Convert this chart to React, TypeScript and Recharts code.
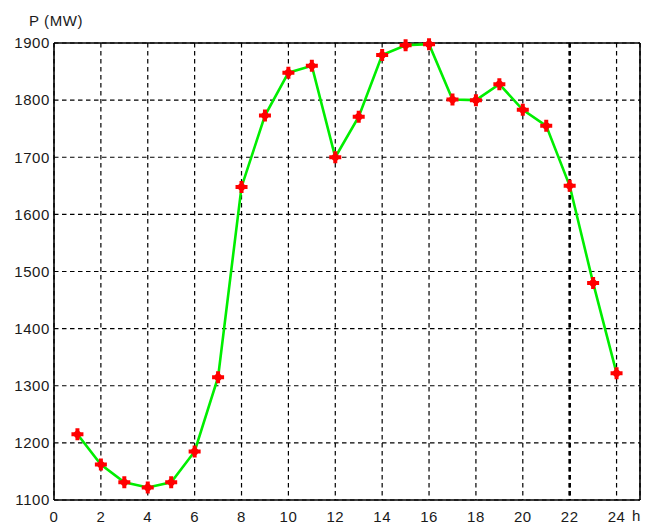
import React from 'react';
import { LineChart, Line, XAxis, YAxis, CartesianGrid, ReferenceLine, Label } from 'recharts';

const hours = [1, 2, 3, 4, 5, 6, 7, 8, 9, 10, 11, 12, 13, 14, 15, 16, 17, 18, 19, 20, 21, 22, 23, 24];
const powerMW = [1215, 1162, 1131, 1122, 1131, 1185, 1315, 1648, 1773, 1848, 1860, 1700, 1771, 1879, 1896, 1898, 1801, 1800, 1828, 1783, 1755, 1650, 1480, 1322];
const xTicks = [0, 2, 4, 6, 8, 10, 12, 14, 16, 18, 20, 22, 24];
const yTicks = [1100, 1200, 1300, 1400, 1500, 1600, 1700, 1800, 1900];

const data = hours.map((h, i) => ({ h, p: powerMW[i] }));

const FONT = '"Liberation Sans", Arial, sans-serif';
const TEXT = '#1a1a1a';

const Marker = (props: any) => {
  const { cx, cy, index } = props;
  if (cx == null || cy == null) return null;
  return (
    <g key={`m-${index}`}>
      <path
        d={`M${cx - 6},${cy - 2} h4 v-4 h4 v4 h4 v4 h-4 v4 h-4 v-4 h-4 z`}
        fill="#ff0000"
      />
      <circle cx={cx} cy={cy} r={3.6} fill="#ff0000" />
    </g>
  );
};

const YTitle = (props: any) => {
  const vb = props.viewBox || { x: 0, y: 43 };
  return (
    <text x={29} y={vb.y - 17} fill={TEXT} fontSize={15} fontFamily={FONT} letterSpacing={0.6}>
      P (MW)
    </text>
  );
};

const XUnit = (props: any) => {
  const vb = props.viewBox || { x: 54, y: 500, width: 586 };
  return (
    <text x={vb.x + vb.width - 8} y={vb.y + 21} fill={TEXT} fontSize={15} fontFamily={FONT}>
      h
    </text>
  );
};

export default function App() {
  return (
    <div style={{ position: 'absolute', left: 0, top: 0, width: 650, height: 524, background: '#fff' }}>
      <LineChart
        width={650}
        height={524}
        data={data}
        margin={{ top: 43, right: 10, left: 0, bottom: 0 }}
      >
        <CartesianGrid
          stroke="#000"
          strokeWidth={1.2}
          strokeDasharray="4.5 3.5"
          vertical
          horizontal
        />
        <XAxis
          dataKey="h"
          type="number"
          domain={[0, 25]}
          ticks={xTicks}
          interval={0}
          height={24}
          tickLine={false}
          tickSize={0}
          tickMargin={11}
          axisLine={{ stroke: '#000', strokeWidth: 1.6 }}
          tick={{ fill: TEXT, fontSize: 15, fontFamily: FONT, letterSpacing: 0.5 }}
        >
          <Label content={<XUnit />} />
        </XAxis>
        <YAxis
          type="number"
          domain={[1100, 1900]}
          ticks={yTicks}
          interval={0}
          width={54}
          tickLine={false}
          tickSize={0}
          tickMargin={4}
          axisLine={{ stroke: '#000', strokeWidth: 1.6 }}
          tick={{ fill: TEXT, fontSize: 15, fontFamily: FONT, letterSpacing: 0.6 }}
        >
          <Label content={<YTitle />} />
        </YAxis>
        <ReferenceLine x={22} stroke="#000" strokeWidth={2.6} strokeDasharray="4.5 3.5" strokeDashoffset={3.5} />
        <ReferenceLine y={1900} stroke="#000" strokeWidth={1.6} />
        <ReferenceLine x={25} stroke="#000" strokeWidth={1.6} />
        <Line
          type="linear"
          dataKey="p"
          stroke="#00ee00"
          strokeWidth={2.6}
          dot={<Marker />}
          activeDot={false}
          isAnimationActive={false}
        />
      </LineChart>
    </div>
  );
}
